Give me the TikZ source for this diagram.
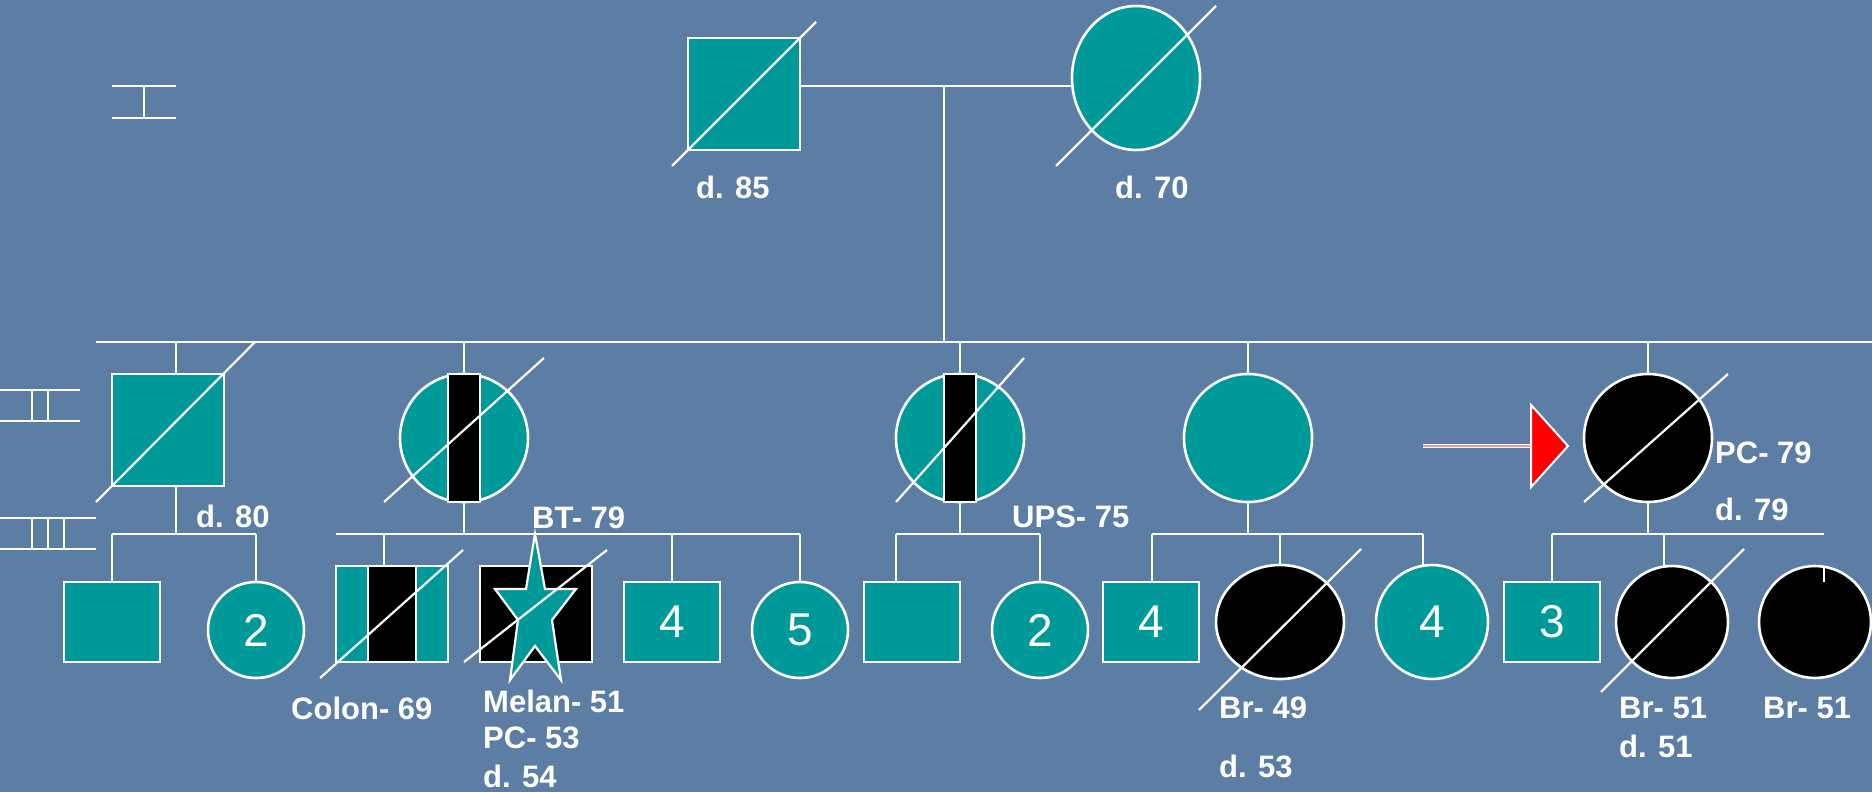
\documentclass[tikz,border=0pt]{standalone}
\usepackage{fontspec}
\setmainfont{Liberation Sans}
\usetikzlibrary{shapes.geometric}
\definecolor{bgblue}{RGB}{92,126,165}
\definecolor{tealA}{RGB}{0,153,153}
\definecolor{pinkA}{RGB}{242,150,150}
\definecolor{redA}{RGB}{255,0,0}
\pgfdeclarelayer{bglayer}
\pgfdeclarelayer{lines}
\pgfsetlayers{bglayer,lines,main}
\begin{document}
\begin{tikzpicture}[x=1pt,y=-1pt,
  ln/.style={draw=white,line width=2.6pt},
  slash/.style={draw=white,line width=2.2pt},
  shp/.style={draw=white,line width=2.6pt,inner sep=0pt,outer sep=0pt},
  male/.style={shp,rectangle,fill=tealA},
  fem/.style={shp,ellipse,fill=tealA},
  lbl/.style={text=white,font=\fontsize{31}{36}\selectfont\bfseries,inner sep=0pt,anchor=base west},
  num/.style={text=white,font=\fontsize{46}{50}\selectfont},
]
\begin{pgfonlayer}{bglayer}
\fill[bgblue] (0,0) rectangle (1872,792);
\end{pgfonlayer}
\useasboundingbox (0,0) rectangle (1872,792);

% ---------- legend-like marks ----------
\draw[ln] (112,86) -- (176,86) (112,118) -- (176,118) (144,86) -- (144,118);
\draw[ln] (0,390) -- (80,390) (0,421) -- (80,421) (32,390) -- (32,421) (48,390) -- (48,421);
\draw[ln] (0,518) -- (96,518) (0,549) -- (96,549) (32,518) -- (32,549) (48,518) -- (48,549) (64,518) -- (64,549);

% ---------- generation I ----------
\node[male,minimum width=112pt,minimum height=112pt] (G1M) at (744,94) {};
\node[fem,minimum width=128pt,minimum height=144pt] (G1F) at (1136,78) {};
\coordinate (m1) at (944,86);
\coordinate (s1) at (944,342);

% ---------- generation II ----------
\node[male,minimum width=112pt,minimum height=112pt] (A) at (168,430) {};
\node[fem,minimum width=128pt,minimum height=128pt] (B) at (464,438) {};
\node[shp,rectangle,fill=black,minimum width=32pt,minimum height=128pt] (Bbar) at (464,438) {};
\node[fem,minimum width=128pt,minimum height=128pt] (C) at (960,438) {};
\node[shp,rectangle,fill=black,minimum width=32pt,minimum height=128pt] (Cbar) at (960,438) {};
\node[fem,minimum width=128pt,minimum height=128pt] (D) at (1248,438) {};
\node[fem,fill=black,minimum width=128pt,minimum height=128pt] (P) at (1648,438) {};

% ---------- generation III ----------
\node[male,minimum width=96pt,minimum height=80pt] (A1) at (112,622) {};
\node[fem,num,minimum width=96pt,minimum height=96pt] (A2) at (256,630) {2};
% colon box with stripes
\node[male,minimum width=112pt,minimum height=96pt] (B1) at (392,614) {};
\node[shp,rectangle,fill=black,minimum width=48pt,minimum height=96pt] (B1bar) at (392,614) {};
% melanoma box with star
\node[shp,rectangle,fill=black,minimum width=112pt,minimum height=96pt] (B2) at (536,614) {};
\draw[white,line width=2.2pt,fill=tealA,line join=miter]
  (535,534) -- (545,589) -- (576,589) -- (552,620) -- (561,680) -- (535,646)
  -- (510,680) -- (518,620) -- (495,589) -- (526,589) -- cycle;
\node[male,num,minimum width=96pt,minimum height=80pt] (B3) at (672,622) {4};
\node[fem,num,minimum width=96pt,minimum height=96pt] (B4) at (800,630) {5};
\node[male,minimum width=96pt,minimum height=80pt] (C1) at (912,622) {};
\node[fem,num,minimum width=96pt,minimum height=96pt] (C2) at (1040,630) {2};
\node[male,num,minimum width=96pt,minimum height=80pt] (D1) at (1151,622) {4};
\node[fem,fill=black,minimum width=128pt,minimum height=114pt] (D2) at (1280,622) {};
\node[fem,num,minimum width=112pt,minimum height=114pt] (D3) at (1432,622) {4};
\node[male,num,minimum width=96pt,minimum height=80pt] (P1) at (1552,622) {3};
\node[fem,fill=black,minimum width=112pt,minimum height=112pt] (P2) at (1672,622) {};
\node[fem,fill=black,minimum width=112pt,minimum height=112pt] (P3) at (1815,622) {};

% ---------- connectors ----------
\coordinate (sL) at (96,342);
\coordinate (sR) at (1872,342);
\coordinate (dA) at (176,342);
\coordinate (dB) at (464,342);
\coordinate (dC) at (960,342);
\coordinate (dD) at (1248,342);
\coordinate (dP) at (1648,342);
\coordinate (cA) at (176,534);
\coordinate (cB) at (464,534);
\coordinate (cC) at (960,534);
\coordinate (cD) at (1248,534);
\coordinate (cP) at (1648,534);
\coordinate (cA1) at (112,534);
\coordinate (cA2) at (256,534);
\coordinate (cB1) at (384,534);
\coordinate (cBL) at (336,534);
\coordinate (cB3) at (672,534);
\coordinate (cB4) at (800,534);
\coordinate (cC1) at (896,534);
\coordinate (cC2) at (1040,534);
\coordinate (cD1) at (1152,534);
\coordinate (cD2) at (1280,534);
\coordinate (cD3) at (1423,534);
\coordinate (cP1) at (1552,534);
\coordinate (cP2) at (1664,534);
\coordinate (cP3) at (1824,534);
\coordinate (tP3) at (1824,582);

\begin{pgfonlayer}{lines}
\draw[ln] (G1M.east |- m1) -- (G1F.west |- m1);
\draw[ln] (m1) -- (s1);
\draw[ln] (sL) -- (sR);
\foreach \d/\n in {dA/A,dB/B,dC/C,dD/D,dP/P}
  \draw[ln] (\d) -- (\d |- \n.north);
\draw[ln] (cA |- A.south) -- (cA);
\draw[ln] (cB |- B.south) -- (cB);
\draw[ln] (cC |- C.south) -- (cC);
\draw[ln] (cD |- D.south) -- (cD);
\draw[ln] (cP |- P.south) -- (cP);
\draw[ln] (cA1) -- (cA2);
\draw[ln] (cBL) -- (cB4);
\draw[ln] (cC1) -- (cC2);
\draw[ln] (cD1) -- (cD3);
\draw[ln] (cP1) -- (cP3);
\foreach \c/\n in {cA1/A1,cA2/A2,cB1/B1,cB3/B3,cB4/B4,cC1/C1,cC2/C2,cD1/D1,cD2/D2,cD3/D3,cP1/P1,cP2/P2}
  \draw[ln] (\c) -- (\c |- \n.north);
\end{pgfonlayer}
\draw[ln] (cP3 |- P3.north) -- (tP3);

% ---------- deceased slashes ----------
\coordinate (g1a) at (672,166); \coordinate (g1b) at (816,22);
\coordinate (g2a) at (1056,166); \coordinate (g2b) at (1216,6);
\coordinate (aa) at (96,502); \coordinate (ab) at (255,342);
\coordinate (ba) at (384,502); \coordinate (bb) at (544,358);
\coordinate (ca) at (896,502); \coordinate (cb) at (1024,358);
\coordinate (pa) at (1584,502); \coordinate (pb) at (1728,374);
\coordinate (b1a) at (320,678); \coordinate (b1b) at (463,550);
\coordinate (b2a) at (464,662); \coordinate (b2b) at (607,550);
\coordinate (d2a) at (1199,710); \coordinate (d2b) at (1361,549);
\coordinate (p2a) at (1601,692); \coordinate (p2b) at (1744,549);
\foreach \u/\v in {g1a/g1b,g2a/g2b,aa/ab,ba/bb,ca/cb,pa/pb,b1a/b1b,b2a/b2b,d2a/d2b,p2a/p2b}
  \draw[slash] (\u) -- (\v);

% ---------- proband arrow ----------
\coordinate (ar0) at (1423,446);
\coordinate (ar1) at (1531,446);
\draw[white,line width=4.4pt] (ar0) -- (ar1);
\draw[pinkA,line width=2pt] (ar0) -- (ar1);
\node[draw=white,fill=redA,line width=2pt,isosceles triangle,isosceles triangle apex angle=96,
  minimum height=37pt,inner sep=0pt,outer sep=0pt,anchor=west] (arT) at (ar1) {};

% ---------- labels ----------
\node[lbl] (t1) at (696,198) {d. 85};
\node[lbl] (t2) at (1115,198) {d. 70};
\node[lbl] (t3) at (196,527) {d. 80};
\node[lbl] (t4) at (532,528) {BT- 79};
\node[lbl] (t5) at (1012,527) {UPS- 75};
\node[lbl] (t6) at (1715,463) {PC- 79};
\node[lbl] (t7) at (1715,520) {d. 79};
\node[lbl] (t8) at (291,719) {Colon- 69};
\node[lbl] (t9) at (483,712) {Melan- 51};
\node[lbl] (t10) at (483,748) {PC- 53};
\node[lbl] (t11) at (483,787) {d. 54};
\node[lbl] (t12) at (1219,718) {Br- 49};
\node[lbl] (t13) at (1219,777) {d. 53};
\node[lbl] (t14) at (1619,718) {Br- 51};
\node[lbl] (t15) at (1619,757) {d. 51};
\node[lbl] (t16) at (1763,718) {Br- 51};
\end{tikzpicture}
\end{document}
